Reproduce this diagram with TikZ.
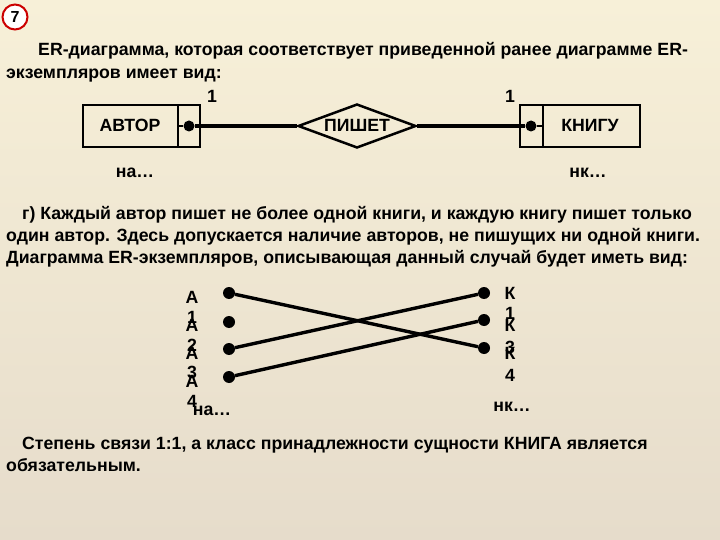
\documentclass[tikz,border=0pt]{standalone}
\usepackage{fontspec}
\setmainfont{Liberation Sans}
\usetikzlibrary{shapes.geometric}
\definecolor{bgtop}{HTML}{F7F0D8}
\definecolor{bgbot}{HTML}{E6DCCB}
\begin{document}
\begin{tikzpicture}[x=1pt,y=-1pt,
  txt/.style={anchor=base west,inner sep=0,font=\bfseries\fontsize{17.7}{20}\selectfont},
  lbl/.style={anchor=base,inner sep=0,font=\bfseries\fontsize{17.7}{20}\selectfont},
  dot/.style={circle,fill=black,inner sep=0,minimum size=12pt},
  ln/.style={line width=3.4pt}]
\shade[top color=bgtop, bottom color=bgbot] (0,0) rectangle (720,540);
\useasboundingbox (0,0) rectangle (720,540);
\node[circle,draw=red!80!black,line width=2pt,fill=white,inner sep=1pt,minimum size=25pt,font=\bfseries\fontsize{16}{16}\selectfont] (num) at (15,17) {7};
\node[txt] (t1) at (38,56) {ER-диаграмма, которая соответствует приведенной ранее диаграмме ER-};
\node[txt] (t2) at (6,79) {экземпляров имеет вид:};
% top ER diagram
\draw[line width=2.5pt] (83,105) rectangle (200,147);
\draw[line width=2.5pt] (178,105) -- (178,147);
\node[lbl] (avtor) at (130,132) {АВТОР};
\draw[line width=2.5pt] (520,105) rectangle (640,147);
\draw[line width=2.5pt] (543,105) -- (543,147);
\node[lbl] (knigu) at (590,132) {КНИГУ};
\node[diamond,draw,line width=2.5pt,aspect=2.7,minimum width=118pt,minimum height=44pt,inner sep=0] (pishet) at (357,126) {};
\node[lbl] at (357,132) {ПИШЕТ};
\node[dot,minimum size=11pt] (da) at (189,126) {};
\node[dot,minimum size=11pt] (dk) at (531,126) {};
\draw[ln] (da) -- (pishet.west);
\draw[ln] (pishet.east) -- (dk);
\draw[line width=2.5pt] (178,126) -- (da);
\draw[line width=2.5pt] (dk) -- (543,126);
\node[lbl] at (212,103) {1};
\node[lbl] at (510,103) {1};
\node[lbl] at (135,178) {на…};
\node[lbl] at (588,178) {нк…};
% paragraph
\node[txt] at (22,219) {г) Каждый автор пишет не более одной книги, и каждую книгу пишет только};
\node[txt] at (6,241) {один автор. Здесь допускается наличие авторов, не пишущих ни одной книги.};
\node[txt] at (6,263) {Диаграмма ER-экземпляров, описывающая данный случай будет иметь вид:};
% instance diagram
\foreach \y/\t in {303/А,323/1,331/А,351/2,359/А,378/3,387/А,407/4}
  \node[lbl] at (192,\y) {\t};
\foreach \y/\t in {299/К,319/1,331/К,353/3,359/К,381/4}
  \node[lbl] at (510,\y) {\t};
\node[lbl] at (212,415) {на…};
\node[lbl] at (512,411) {нк…};
\node[dot] (a1) at (229,293) {};
\node[dot] (a2) at (229,322) {};
\node[dot] (a3) at (229,349) {};
\node[dot] (a4) at (229,377) {};
\node[dot] (k1) at (484,293) {};
\node[dot] (k2) at (484,320) {};
\node[dot] (k3) at (484,348) {};
\draw[ln] (a1) -- (k3);
\draw[ln] (a3) -- (k1);
\draw[ln] (a4) -- (k2);
\node[txt] at (22,449) {Степень связи 1:1, а класс принадлежности сущности КНИГА является};
\node[txt] at (6,471) {обязательным.};
\end{tikzpicture}
\end{document}
